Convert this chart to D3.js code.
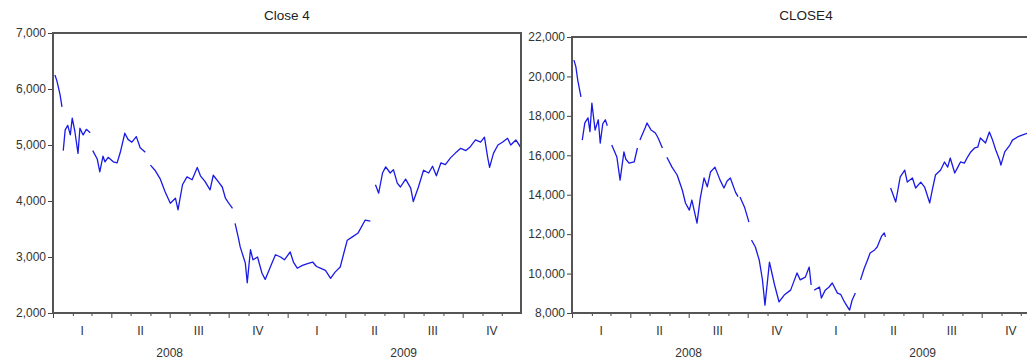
<!DOCTYPE html>
<html>
<head>
<meta charset="utf-8">
<script src="https://cdn.jsdelivr.net/npm/d3@7"></script>
<style>
  body { margin: 0; background: #fff; }
  svg { display: block; font-family: 'Liberation Sans', Arial, sans-serif; }
  .axis path, .axis line { stroke: #444; }
  .axis text { fill: #333; font-size: 12px; }
</style>
</head>
<body>
<svg id="chart" width="1027" height="360"></svg>
<script>
// left panel: Close 4 (null = break in the series)
const close4Dates = [
  '2008-01-04','2008-01-07','2008-01-12','2008-01-15','2008-01-16','2008-01-17','2008-01-20','2008-01-24',
  '2008-01-28','2008-01-31','2008-02-04','2008-02-09','2008-02-12','2008-02-17','2008-02-22','2008-02-28',
  '2008-03-01','2008-03-03','2008-03-10','2008-03-14','2008-03-19','2008-03-22','2008-03-27','2008-04-04',
  '2008-04-10','2008-04-15','2008-04-22','2008-04-27','2008-05-03','2008-05-10','2008-05-16','2008-05-24',
  '2008-05-28','2008-06-01','2008-06-08','2008-06-16','2008-06-24','2008-07-02','2008-07-10','2008-07-14',
  '2008-07-21','2008-07-28','2008-08-05','2008-08-13','2008-08-18','2008-08-25','2008-09-02','2008-09-07',
  '2008-09-15','2008-09-21','2008-09-26','2008-09-30','2008-10-07','2008-10-09','2008-10-11','2008-10-16',
  '2008-10-19','2008-10-24','2008-10-27','2008-10-30','2008-11-04','2008-11-08','2008-11-15','2008-11-22',
  '2008-11-27','2008-12-05','2008-12-13','2008-12-21','2008-12-27','2009-01-05','2009-01-10','2009-01-16',
  '2009-01-24','2009-02-01','2009-02-09','2009-02-15','2009-02-21','2009-03-01','2009-03-09','2009-03-16',
  '2009-03-24','2009-03-29','2009-04-04','2009-04-12','2009-04-21','2009-05-02','2009-05-10','2009-05-14',
  '2009-05-18','2009-05-23','2009-05-29','2009-06-03','2009-06-10','2009-06-15','2009-06-21','2009-06-26',
  '2009-07-04','2009-07-12','2009-07-16','2009-07-24','2009-08-01','2009-08-09','2009-08-15','2009-08-21',
  '2009-08-28','2009-09-04','2009-09-12','2009-09-20','2009-09-28','2009-10-06','2009-10-13','2009-10-21',
  '2009-10-29','2009-11-04','2009-11-09','2009-11-12','2009-11-18','2009-11-25','2009-12-02','2009-12-10',
  '2009-12-15','2009-12-23','2009-12-31'
];
const close4Values = [
  6250, 6150, 5900, 5680, null, 4900, 5270, 5350,
  5180, 5480, 5250, 4850, 5300, 5180, 5280, 5220,
  null, 4900, 4750, 4520, 4800, 4700, 4780, 4700,
  4680, 4870, 5210, 5100, 5050, 5150, 4950, 4870,
  null, 4640, 4550, 4400, 4160, 3960, 4050, 3840,
  4290, 4430, 4380, 4600, 4450, 4350, 4200, 4460,
  4340, 4250, 4050, 3980, 3870, null, 3600, 3350,
  3180, 3000, 2890, 2540, 3130, 2950, 3000, 2710,
  2600, 2820, 3040, 3000, 2950, 3090, 2910, 2800,
  2850, 2880, 2910, 2830, 2800, 2760, 2620, 2730,
  2820, 3040, 3300, 3360, 3430, 3660, 3640, null,
  4290, 4140, 4500, 4610, 4500, 4560, 4320, 4250,
  4390, 4230, 3990, 4250, 4550, 4500, 4620, 4450,
  4680, 4650, 4770, 4860, 4940, 4900, 4970, 5090,
  5050, 5140, 4780, 4600, 4850, 5000, 5050, 5120,
  5000, 5090, 4950
];

// right panel: CLOSE4
const close4bDates = [
  '2008-01-04','2008-01-07','2008-01-10','2008-01-15','2008-01-16','2008-01-17','2008-01-21','2008-01-26',
  '2008-01-29','2008-02-01','2008-02-06','2008-02-11','2008-02-14','2008-02-18','2008-02-22','2008-02-25',
  '2008-02-28','2008-03-03','2008-03-11','2008-03-16','2008-03-22','2008-03-25','2008-03-30','2008-04-07',
  '2008-04-12','2008-04-14','2008-04-16','2008-04-24','2008-04-27','2008-05-03','2008-05-10','2008-05-14',
  '2008-05-21','2008-05-25','2008-05-28','2008-06-05','2008-06-13','2008-06-21','2008-06-26','2008-07-02',
  '2008-07-06','2008-07-14','2008-07-19','2008-07-25','2008-07-30','2008-08-04','2008-08-11','2008-08-19',
  '2008-08-25','2008-08-30','2008-09-04','2008-09-12','2008-09-16','2008-09-18','2008-09-19','2008-09-26',
  '2008-10-03','2008-10-05','2008-10-07','2008-10-13','2008-10-19','2008-10-24','2008-10-28','2008-11-04',
  '2008-11-12','2008-11-19','2008-11-27','2008-12-07','2008-12-13','2008-12-17','2008-12-22','2008-12-30',
  '2009-01-05','2009-01-08','2009-01-10','2009-01-13','2009-01-21','2009-01-24','2009-01-30','2009-02-05',
  '2009-02-10','2009-02-18','2009-02-23','2009-03-01','2009-03-06','2009-03-09','2009-03-13','2009-03-18',
  '2009-03-22','2009-03-26','2009-04-01','2009-04-06','2009-04-10','2009-04-17','2009-04-21','2009-04-28',
  '2009-05-02','2009-05-04','2009-05-08','2009-05-12','2009-05-20','2009-05-27','2009-06-03','2009-06-07',
  '2009-06-15','2009-06-20','2009-06-28','2009-07-04','2009-07-12','2009-07-16','2009-07-21','2009-07-29',
  '2009-08-04','2009-08-09','2009-08-13','2009-08-20','2009-08-24','2009-08-29','2009-09-04','2009-09-09',
  '2009-09-14','2009-09-20','2009-09-25','2009-09-29','2009-10-07','2009-10-13','2009-10-18','2009-10-23',
  '2009-10-29','2009-10-31','2009-11-06','2009-11-14','2009-11-18','2009-11-26','2009-12-04','2009-12-12',
  '2009-12-21','2009-12-31'
];
const close4bValues = [
  20830, 20500, 19800, 18960, null, 16770, 17640, 17900,
  17200, 18650, 17280, 17800, 16620, 17600, 17800, 17500,
  null, 16520, 15910, 14740, 16170, 15800, 15600, 15660,
  16370, null, 16770, 17380, 17640, 17300, 17130, 16900,
  16370, null, 15900, 15400, 15000, 14240, 13580, 13220,
  13730, 12560, 13800, 14850, 14400, 15150, 15400, 14740,
  14340, 14700, 14850, 14130, 13900, null, 13880, 13380,
  12610, null, 11700, 11350, 10690, 9700, 8400, 10580,
  9420, 8560, 8910, 9160, 9680, 10030, 9680, 9820,
  10330, 9420, null, 9160, 9320, 8760, 9160, 9320,
  9520, 9010, 8950, 8560, 8300, 8150, 8660, 9010,
  null, 9680, 10280, 10690, 11040, 11200, 11350, 11900,
  12060, 11860, null, 14340, 13630, 14900, 15250, 14640,
  14850, 14340, 14640, 14390, 13580, 14240, 15000, 15250,
  15660, 15400, 15860, 15100, 15350, 15660, 15600, 15910,
  16170, 16370, 16420, 16880, 16620, 17180, 16770, 16270,
  15760, 15500, 16170, 16520, 16770, 16930, 17030, 17130,
  16900, 17050
];

const quarterLabels = ['I', 'II', 'III', 'IV'];
const yearLabels = ['2008', '2009'];
const yTicksLeft = [2000, 3000, 4000, 5000, 6000, 7000];
const yTicksRight = [8000, 10000, 12000, 14000, 16000, 18000, 20000, 22000];

const parse = d3.timeParse('%Y-%m-%d');
const svg = d3.select('#chart');

function draw_panel(opts) {
  const { id, title, dates, values, yTicks, left, top, width, bottom } = opts;
  const height = bottom - top;
  const data = dates.map((d, i) => ({ date: parse(d), value: values[i] }));

  const x = d3.scaleTime()
    .domain([new Date(2008, 0, 1), new Date(2009, 11, 31)])
    .range([0, width]);
  const y = d3.scaleLinear()
    .domain(d3.extent(yTicks))
    .range([height, 0]);

  const g = svg.append('g').attr('transform', `translate(${left},${top})`);

  svg.append('defs').append('clipPath').attr('id', `clip-${id}`)
    .append('rect').attr('width', width).attr('height', height);

  // title
  g.append('text')
    .attr('x', width / 2)
    .attr('y', -top + 20)
    .attr('text-anchor', 'middle')
    .attr('font-size', 13.5)
    .attr('fill', '#222')
    .text(title);

  // y axis
  const axisY = g.append('g').attr('class', 'axis')
    .call(d3.axisLeft(y).tickValues(yTicks).tickFormat(d3.format(',')).tickSize(5).tickPadding(2));
  axisY.select('.domain').remove();

  // x axis: monthly minor ticks, quarter ticks a bit longer
  const axisX = g.append('g').attr('class', 'axis')
    .attr('transform', `translate(0,${height})`)
    .call(d3.axisBottom(x).ticks(d3.timeMonth.every(1)).tickFormat('').tickSize(3));
  axisX.select('.domain').remove();
  axisX.selectAll('.tick line')
    .attr('y2', d => (d.getMonth() % 3 === 0 ? 5 : 3));

  // quarter labels
  const quarters = d3.timeMonth.every(3).range(new Date(2008, 0, 1), new Date(2010, 0, 1));
  g.append('g').selectAll('text')
    .data(quarters)
    .join('text')
    .attr('x', d => x(new Date(d.getTime() + 45.5 * 864e5)))
    .attr('y', height + 22)
    .attr('text-anchor', 'middle')
    .attr('font-size', 12)
    .attr('fill', '#333')
    .text(d => quarterLabels[Math.floor(d.getMonth() / 3)]);

  // year labels
  g.append('g').selectAll('text')
    .data(yearLabels)
    .join('text')
    .attr('x', d => x(new Date(+d, 6, 1)))
    .attr('y', height + 44)
    .attr('text-anchor', 'middle')
    .attr('font-size', 12)
    .attr('fill', '#333')
    .text(d => d);

  // series
  const line = d3.line()
    .defined(d => d.value != null)
    .x(d => x(d.date))
    .y(d => y(d.value));

  g.append('path')
    .datum(data)
    .attr('clip-path', `url(#clip-${id})`)
    .attr('fill', 'none')
    .attr('stroke', '#1a1ae6')
    .attr('stroke-width', 1.3)
    .attr('stroke-linejoin', 'round')
    .attr('d', line);

  // frame
  g.append('rect')
    .attr('width', width)
    .attr('height', height)
    .attr('fill', 'none')
    .attr('stroke', '#555')
    .attr('stroke-width', 2);
}

draw_panel({
  id: 'left', title: 'Close 4', dates: close4Dates, values: close4Values,
  yTicks: yTicksLeft, left: 53, top: 33, width: 468, bottom: 313
});

draw_panel({
  id: 'right', title: 'CLOSE4', dates: close4bDates, values: close4bValues,
  yTicks: yTicksRight, left: 572, top: 37, width: 468, bottom: 313
});
</script>
</body>
</html>
